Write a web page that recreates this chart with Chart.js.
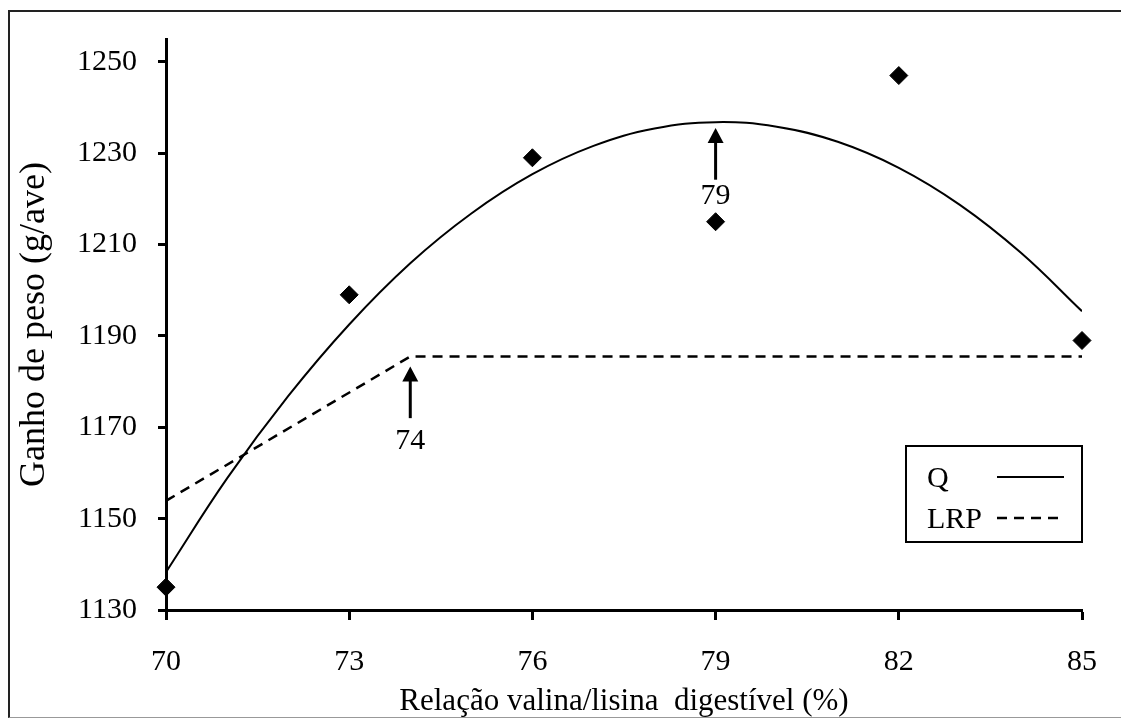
<!DOCTYPE html>
<html>
<head>
<meta charset="utf-8">
<script src="https://cdn.jsdelivr.net/npm/chart.js@4.4.1/dist/chart.umd.min.js"></script>
<style>
  html, body { margin: 0; padding: 0; background: #fff; }
  #wrap { position: relative; width: 1121px; height: 720px; overflow: hidden; }
  #frame { position: absolute; left: 8px; top: 10px; width: 1200px; height: 705px;
           border-top: 2px solid #222; border-left: 2px solid #222; border-bottom: 1px solid #999; }
  canvas { position: absolute; left: 0; top: 0; }
</style>
</head>
<body>
<div id="wrap">
  <div id="frame"></div>
  <canvas id="chart" width="1121" height="720"></canvas>
</div>
<script>
// eixos
const xTicks = [70, 73, 76, 79, 82, 85];
const yTicks = [1130, 1150, 1170, 1190, 1210, 1230, 1250];

// médias observadas
const obsX = [70, 73, 76, 79, 82, 85];
const obsY = [1135, 1199, 1229, 1215, 1247, 1189];

// curva quadrática (Q)
const qX = [70, 71, 72, 73, 74, 75, 76, 77, 78, 79, 80, 81, 82, 83, 84, 85];
const qY = [1138.3, 1158.8, 1176.8, 1192.5, 1205.9, 1216.8, 1225.4, 1231.6,
            1235.4, 1236.8, 1235.8, 1232.5, 1226.8, 1218.7, 1208.2, 1195.4];

// linear response plateau (LRP)
const lrpX = [70, 74, 85];
const lrpY = [1153.9, 1185.5, 1185.5];

// setas com os pontos ótimos
const arrowX = [79, 74];
const arrowTip = [1235.5, 1183.3];
const arrowBase = [1224.2, 1172.0];
const arrowLabelY = [1220.7, 1167];
const arrowText = ['79', '74'];

const serif = '"Liberation Serif", "Times New Roman", serif';
Chart.defaults.font.family = serif;
Chart.defaults.color = '#000';

const toXY = (xs, ys) => xs.map((v, i) => ({ x: v, y: ys[i] }));

// setas + caixa de legenda
const extras = {
    id: 'extras',
    afterDatasetsDraw(chart) {
        const { ctx, scales: { x, y }, chartArea } = chart;
        ctx.save();
        ctx.fillStyle = '#000';
        ctx.strokeStyle = '#000';
        ctx.font = '30px ' + serif;
        ctx.textAlign = 'center';
        ctx.textBaseline = 'middle';
        arrowX.forEach((v, i) => {
            const px = x.getPixelForValue(v);
            const tip = y.getPixelForValue(arrowTip[i]);
            const base = y.getPixelForValue(arrowBase[i]);
            ctx.lineWidth = 3;
            ctx.setLineDash([]);
            ctx.beginPath();
            ctx.moveTo(px, base);
            ctx.lineTo(px, tip + 12);
            ctx.stroke();
            ctx.beginPath();
            ctx.moveTo(px, tip);
            ctx.lineTo(px - 8, tip + 15);
            ctx.lineTo(px + 8, tip + 15);
            ctx.closePath();
            ctx.fill();
            ctx.fillText(arrowText[i], px, y.getPixelForValue(arrowLabelY[i]));
        });

        // legenda
        const w = 176, h = 96;
        const right = chartArea.right;
        const bottom = chartArea.bottom - 68;
        const left = right - w, top = bottom - h;
        ctx.lineWidth = 2;
        ctx.strokeRect(left, top, w, h);
        ctx.textAlign = 'left';
        [1, 2].forEach((di, row) => {
            const ds = chart.data.datasets[di];
            const cy = top + 31 + row * 41;
            ctx.fillText(ds.label, left + 21, cy + 2);
            ctx.lineWidth = ds.borderWidth;
            ctx.setLineDash(ds.borderDash || []);
            ctx.beginPath();
            ctx.moveTo(left + 91, cy);
            ctx.lineTo(left + 158, cy);
            ctx.stroke();
        });
        ctx.restore();
    }
};

const ctx = document.getElementById('chart').getContext('2d');
const chart = new Chart(ctx, {
    type: 'line',
    data: {
        datasets: [
            {
                label: 'Médias',
                data: toXY(obsX, obsY),
                showLine: false,
                pointStyle: 'rectRot',
                pointRadius: 9,
                backgroundColor: '#000',
                borderColor: '#000',
                borderWidth: 1,
                clip: false,
                order: 0
            },
            {
                label: 'Q',
                data: toXY(qX, qY),
                borderColor: '#000',
                borderWidth: 2,
                pointRadius: 0,
                tension: 0.4,
                fill: false,
                order: 1
            },
            {
                label: 'LRP',
                data: toXY(lrpX, lrpY),
                borderColor: '#000',
                borderWidth: 2.5,
                borderDash: [10, 7],
                pointRadius: 0,
                tension: 0,
                fill: false,
                order: 2
            }
        ]
    },
    options: {
        responsive: false,
        animation: false,
        events: [],
        layout: { padding: { top: 34, right: 34, left: 0, bottom: 0 } },
        plugins: {
            legend: { display: false },
            tooltip: { enabled: false }
        },
        scales: {
            x: {
                type: 'linear',
                min: 70,
                max: 85,
                afterBuildTicks: s => { s.ticks = xTicks.map(v => ({ value: v })); },
                afterFit: s => { s.height = 110; },
                grid: { drawOnChartArea: false, drawTicks: true, tickLength: 10, tickWidth: 3, tickColor: '#000' },
                border: { display: true, color: '#000', width: 3 },
                ticks: { font: { size: 30 }, padding: 24, maxRotation: 0, callback: v => String(v) },
                title: {
                    display: true,
                    text: 'Relação valina/lisina  digestível (%)',
                    font: { size: 31, lineHeight: 1 },
                    padding: { top: 0, bottom: 3 }
                }
            },
            y: {
                type: 'linear',
                min: 1130,
                max: 1255,
                afterBuildTicks: s => { s.ticks = yTicks.map(v => ({ value: v })); },
                afterFit: s => { s.width = 166; },
                grid: { drawOnChartArea: false, drawTicks: true, tickLength: 8, tickWidth: 3, tickColor: '#000' },
                border: { display: true, color: '#000', width: 3 },
                ticks: { font: { size: 30 }, padding: 21, callback: v => String(v) },
                title: {
                    display: true,
                    text: 'Ganho de peso (g/ave)',
                    font: { size: 36, lineHeight: 1 },
                    padding: { top: 17, bottom: 0 }
                }
            }
        }
    },
    plugins: [extras]
});
</script>
</body>
</html>
